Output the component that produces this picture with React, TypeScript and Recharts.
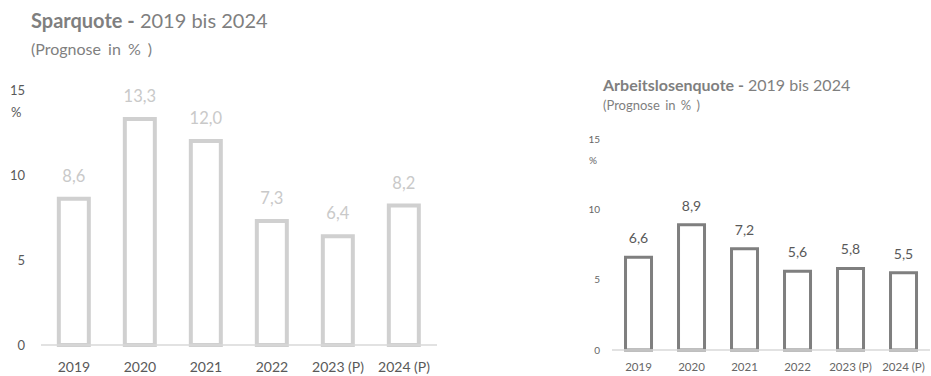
import { Bar, BarChart, LabelList, XAxis, YAxis } from "recharts";

const years = ["2019", "2020", "2021", "2022", "2023 (P)", "2024 (P)"];
const sparquote = [8.6, 13.3, 12.0, 7.3, 6.4, 8.2];
const arbeitslosenquote = [6.6, 8.9, 7.2, 5.6, 5.8, 5.5];
const yTicks = [0, 5, 10, 15];

const FONT = "Lato, 'Liberation Sans', sans-serif";

const sparData = years.map((year, i) => ({ year, value: sparquote[i] }));
const alqData = years.map((year, i) => ({ year, value: arbeitslosenquote[i] }));

const fmt = (v: number) => v.toFixed(1).replace(".", ",");

export default function App() {
  return (
    <div
      style={{
        position: "absolute",
        left: 0,
        top: 0,
        width: 931,
        height: 376,
        background: "#fff",
        fontFamily: FONT,
        overflow: "hidden"
      }}
    >
      {/* left chart: Sparquote */}
      <div style={{ position: "absolute", left: 31, top: 8, fontSize: 20, color: "#7f7f7f", whiteSpace: "nowrap" }}>
        <b>Sparquote -</b> 2019 bis 2024
      </div>
      <div
        style={{
          position: "absolute",
          left: 31,
          top: 39,
          fontSize: 16,
          color: "#7f7f7f",
          whiteSpace: "nowrap",
          wordSpacing: 3
        }}
      >
        (Prognose in % )
      </div>
      <div style={{ position: "absolute", left: 11, top: 104, fontSize: 13, color: "#595959" }}>%</div>
      <div style={{ position: "absolute", left: 0, top: 0 }}>
        <BarChart
          width={470}
          height={376}
          data={sparData}
          margin={{ top: 90, right: 33, bottom: 0, left: 0 }}
          barCategoryGap="27%"
        >
          <XAxis
            dataKey="year"
            height={31}
            tickSize={0}
            tickMargin={17}
            tickLine={false}
            axisLine={{ stroke: "#d9d9d9", strokeWidth: 1.5 }}
            tick={{ fontSize: 14, fill: "#595959", fontFamily: FONT }}
            interval={0}
          />
          <YAxis
            domain={[0, 15]}
            ticks={yTicks}
            width={41}
            tickSize={0}
            tickMargin={16}
            tickLine={false}
            axisLine={false}
            tick={{ fontSize: 13, fill: "#595959", fontFamily: FONT }}
          />
          <Bar dataKey="value" fill="#ffffff" stroke="#d0d0d0" strokeWidth={4} isAnimationActive={false}>
            <LabelList
              dataKey="value"
              position="top"
              offset={17}
              formatter={(v: number) => fmt(v)}
              style={{ fontSize: 16.5, fill: "#c9c9c9", fontFamily: FONT }}
            />
          </Bar>
        </BarChart>
      </div>

      {/* right chart: Arbeitslosenquote */}
      <div style={{ position: "absolute", left: 603, top: 75, fontSize: 16, color: "#7f7f7f", whiteSpace: "nowrap" }}>
        <b>Arbeitslosenquote -</b> 2019 bis 2024
      </div>
      <div
        style={{
          position: "absolute",
          left: 603,
          top: 97,
          fontSize: 13,
          color: "#7f7f7f",
          whiteSpace: "nowrap",
          wordSpacing: 2
        }}
      >
        (Prognose in % )
      </div>
      <div style={{ position: "absolute", left: 589, top: 154, fontSize: 10, color: "#666666" }}>%</div>
      <div style={{ position: "absolute", left: 540, top: 0 }}>
        <BarChart
          width={391}
          height={376}
          data={alqData}
          margin={{ top: 139, right: 1, bottom: 0, left: 0 }}
          barCategoryGap="25.5%"
        >
          <XAxis
            dataKey="year"
            height={26}
            tickSize={0}
            tickMargin={13}
            tickLine={false}
            axisLine={{ stroke: "#d9d9d9", strokeWidth: 1.5 }}
            tick={{ fontSize: 11.5, fill: "#666666", fontFamily: FONT }}
            interval={0}
          />
          <YAxis
            domain={[0, 15]}
            ticks={yTicks}
            width={72}
            tickSize={0}
            tickMargin={12}
            tickLine={false}
            axisLine={false}
            tick={{ fontSize: 10, fill: "#666666", fontFamily: FONT }}
          />
          <Bar dataKey="value" fill="#ffffff" stroke="#7f7f7f" strokeWidth={3} isAnimationActive={false}>
            <LabelList
              dataKey="value"
              position="top"
              offset={14}
              formatter={(v: number) => fmt(v)}
              style={{ fontSize: 14, fill: "#595959", fontFamily: FONT }}
            />
          </Bar>
        </BarChart>
      </div>
    </div>
  );
}
